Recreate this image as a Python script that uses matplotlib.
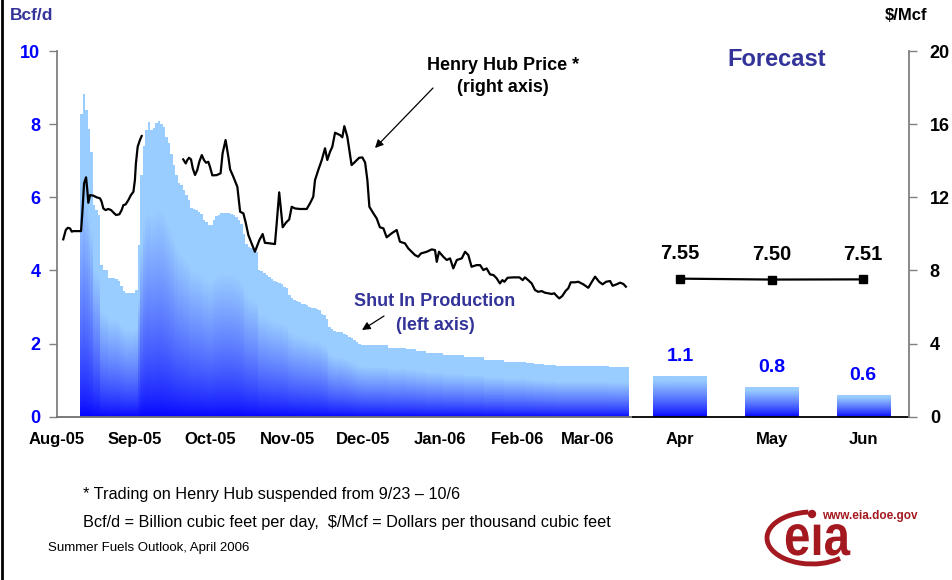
import numpy as np
import matplotlib
matplotlib.use("Agg")
import matplotlib.pyplot as plt
from matplotlib.lines import Line2D
from matplotlib.patches import Arc, Circle, PathPatch
from matplotlib.textpath import TextPath
from matplotlib.font_manager import FontProperties
from matplotlib.transforms import Affine2D

plt.rcParams['font.family'] = ['Liberation Sans', 'DejaVu Sans']

# ---------------- data ----------------
month_labels = ['Aug-05', 'Sep-05', 'Oct-05', 'Nov-05', 'Dec-05', 'Jan-06', 'Feb-06', 'Mar-06']
month_days = [0, 31, 61, 92, 122, 153, 184, 212]          # days since 1 Aug 2005 (chart scale)

shutin_first_day = 9.2                                      # first daily shut-in bar
shutin = [8.27, 8.80, 8.36, 7.86, 7.23,
          5.77, 5.65, 5.50,
          4.14, 4.00, 4.00, 3.79, 3.78, 3.78, 3.77, 3.70, 3.57, 3.45, 3.39, 3.39, 3.39, 3.39, 3.46,
          4.68, 6.59, 7.40, 7.82, 8.05, 7.84, 7.88, 8.02, 8.06, 8.00, 7.90, 7.64, 7.46, 7.16, 6.86,
          6.61, 6.38, 6.33, 6.18, 6.05, 5.93, 5.70, 5.68, 5.64, 5.59, 5.53, 5.36, 5.32, 5.23, 5.25, 5.38,
          5.47, 5.52, 5.56, 5.56, 5.56, 5.56, 5.53, 5.50, 5.45, 5.36,
          5.27, 5.00, 4.73, 4.64, 4.60, 4.55, 4.50, 4.00, 3.97, 3.94,
          3.86, 3.81, 3.77, 3.70, 3.68, 3.66, 3.64, 3.55, 3.52, 3.32,
          3.25, 3.18, 3.17, 3.15, 3.09, 3.09, 3.05, 3.00, 2.97, 2.97,
          2.95, 2.91, 2.82, 2.77, 2.68, 2.45, 2.40, 2.34, 2.32, 2.32,
          2.32, 2.27, 2.23, 2.18, 2.14, 2.09, 2.03, 2.00, 1.97, 1.97,
          1.95, 1.95,
          1.95, 1.95, 1.95, 1.95, 1.95, 1.95, 1.95,
          1.89, 1.89, 1.89, 1.89, 1.89, 1.89, 1.89,
          1.85, 1.85, 1.85, 1.85,
          1.80, 1.80, 1.80, 1.80,
          1.74, 1.74, 1.74, 1.74, 1.74, 1.74, 1.74,
          1.68, 1.68, 1.68, 1.68, 1.68, 1.68, 1.68, 1.68,
          1.63, 1.63, 1.63, 1.63, 1.63, 1.63, 1.63, 1.63,
          1.55, 1.55, 1.55, 1.55, 1.55, 1.55, 1.55, 1.55,
          1.50, 1.50, 1.50, 1.50, 1.50, 1.50, 1.50, 1.50, 1.50,
          1.47, 1.47, 1.47,
          1.44, 1.44, 1.44, 1.44,
          1.41, 1.41, 1.41, 1.41, 1.41,
          1.38, 1.38, 1.38, 1.38, 1.38, 1.38, 1.38, 1.38, 1.38, 1.38,
          1.38, 1.38, 1.38, 1.38, 1.38, 1.38, 1.38, 1.38, 1.38, 1.38, 1.38,
          1.36, 1.36, 1.36, 1.36, 1.36, 1.36, 1.36, 1.36]

# Henry Hub price before the trading suspension
price_days_pre = [2.5, 3.5, 4.3, 5.2, 5.9, 6.5, 9.6, 10.1, 10.8, 11.6, 12.1, 12.5, 13.2, 14.5, 15.8,
                  17.2, 17.8, 18.5, 19.4, 20.5, 21.6, 22.5, 23.6, 24.9, 25.8, 26.5, 27.4, 28.5, 29.5,
                  30.5, 31.1, 31.5, 32.2, 33.1, 33.8]
price_pre = [9.70, 10.21, 10.33, 10.30, 10.12, 10.15, 10.15, 11.12, 12.76, 13.09, 12.39, 11.70, 12.12,
             12.09, 12.00, 11.94, 11.76, 11.39, 11.30, 11.36, 11.30, 11.17, 11.03, 11.07, 11.30, 11.57,
             11.61, 11.85, 12.12, 12.30, 12.94, 13.85, 14.76, 15.13, 15.35]
# Henry Hub price after trading resumed
price_days_post = [50.4, 51.4, 52.0, 52.7, 53.5, 54.2, 55.1, 56.0, 56.8, 57.8,
                   58.7, 59.5, 60.4, 61.1, 62.0, 63.7, 65.3, 66.1, 67.3, 68.4,
                   69.1, 70.4, 72.0, 73.1, 74.4, 75.4, 76.4, 77.7, 79.0, 80.8,
                   82.1, 83.0, 85.0, 87.0, 87.7, 88.7, 90.1, 91.4, 92.7, 93.7,
                   95.0, 97.0, 99.7, 101.0, 102.3, 103.0, 104.3, 105.7, 107.0, 107.9,
                   109.0, 109.9, 111.0, 113.0, 113.9, 114.7, 115.9, 117.6, 119.0, 120.6,
                   121.9, 123.0, 123.9, 124.7, 126.3, 127.6, 128.9, 130.3, 131.6, 133.6,
                   135.6, 136.9, 138.9, 140.2, 141.6, 142.9, 144.2, 145.3, 147.6, 149.6,
                   150.9, 151.6, 152.5, 154.2, 155.6, 156.9, 158.2, 159.6, 161.6, 162.9,
                   164.2, 165.5, 167.5, 168.9, 170.2, 171.5, 172.9, 174.2, 175.5, 176.8,
                   177.8, 178.6, 179.9, 182.2, 184.6, 185.9, 186.8, 188.1, 189.5, 190.8,
                   192.1, 193.5, 194.8, 196.1, 197.5, 198.5, 199.5, 200.5, 201.7, 203.1,
                   204.1, 205.1, 206.8, 208.1, 210.1, 212.1, 213.4, 214.8, 216.4, 217.8,
                   219.2, 220.8, 221.8, 223.4, 224.8, 226.1, 227.1]
price_post = [14.07, 13.85, 14.03, 14.16, 14.07, 13.58, 13.22, 13.49, 13.94, 14.31,
              14.03, 13.89, 13.94, 13.65, 13.20, 13.21, 13.31, 14.40, 15.13, 14.22,
              13.53, 13.12, 12.57, 11.21, 11.12, 10.57, 9.93, 9.48, 9.02, 9.66,
              9.99, 9.51, 9.48, 9.44, 10.57, 12.27, 10.36, 10.61, 10.79, 11.48,
              11.39, 11.36, 11.36, 11.67, 12.03, 12.94, 13.49, 14.04, 14.68, 14.04,
              14.49, 14.76, 15.53, 15.40, 15.28, 15.89, 15.31, 13.76, 13.94, 14.16,
              14.18, 13.90, 12.94, 11.48, 11.12, 10.85, 10.36, 10.30, 9.81, 10.03,
              10.21, 9.57, 9.48, 9.21, 9.02, 8.84, 8.75, 8.93, 9.02, 9.15,
              9.11, 8.47, 9.02, 8.75, 8.57, 8.66, 8.11, 8.57, 8.66, 9.02,
              8.84, 8.20, 8.29, 8.29, 8.02, 8.11, 7.78, 7.75, 7.57, 7.29,
              7.47, 7.38, 7.60, 7.62, 7.62, 7.47, 7.62, 7.47, 7.29, 6.93,
              6.83, 6.87, 6.78, 6.75, 6.71, 6.75, 6.60, 6.47, 6.60, 6.89,
              7.02, 7.35, 7.35, 7.38, 7.24, 7.05, 7.35, 7.66, 7.38, 7.24,
              7.38, 7.42, 7.16, 7.24, 7.33, 7.26, 7.11]

forecast_months = ['Apr', 'May', 'Jun']
forecast_days = [248.7, 285.4, 321.8]
forecast_shutin = [1.1, 0.8, 0.6]
forecast_price = [7.55, 7.50, 7.51]

# ---------------- styling helpers ----------------
BLUE = np.array([0.0, 0.0, 1.0])
LIGHT = np.array([0.6, 0.8, 1.0])
NAVY = '#333399'


def gradient_rgba(heights, yc, frac=0.7, power=0.7):
    h = np.asarray(heights, dtype=float)[None, :]
    y = yc[:, None]
    t = np.clip(y / (frac * h), 0, 1) ** power
    rgba = np.zeros((len(yc), h.shape[1], 4))
    for k in range(3):
        rgba[..., k] = BLUE[k] + (LIGHT[k] - BLUE[k]) * t
    rgba[..., 3] = (y <= h).astype(float)
    return rgba


W, H = 953, 580
fig = plt.figure(figsize=(W / 100, H / 100), dpi=100)
fig.patch.set_facecolor('white')

ax_l, ax_r, ax_b, ax_t = 57, 909, 416.7, 51
ax = fig.add_axes([ax_l / W, 1 - ax_b / H, (ax_r - ax_l) / W, (ax_b - ax_t) / H])
XMAX = (ax_r - ax_l) / 2.505

# historical shut-in bars (real bars + gradient image on top)
n = len(shutin)
bar_x = shutin_first_day + np.arange(n)
ax.bar(bar_x, shutin, width=1.0, align='edge', color='#99CCFF', linewidth=0, zorder=1)
ytop = 9.0
N = 900
yc = (np.arange(N) + 0.5) * ytop / N
img = gradient_rgba(shutin, yc)
ax.imshow(img, extent=[bar_x[0], bar_x[0] + n, 0, ytop], origin='lower', aspect='auto',
          interpolation='nearest', zorder=2)

# forecast bars
fw = 21.2
ax.bar(forecast_days, forecast_shutin, width=fw, color='#99CCFF', linewidth=0, zorder=1)
for c, h in zip(forecast_days, forecast_shutin):
    yy = (np.arange(200) + 0.5) * h / 200
    im = gradient_rgba([h], yy, frac=0.9, power=0.8)
    ax.imshow(im, extent=[c - fw / 2, c + fw / 2, 0, h], origin='lower', aspect='auto',
              interpolation='bilinear', zorder=2)
for c, h in zip(forecast_days, forecast_shutin):
    ax.annotate(f'{h:.1f}', (c, h), xytext=(0, 8), textcoords='offset points', ha='center',
                va='bottom', color='#0000FF', fontsize=14, fontweight='bold')

ax.set_xlim(0, XMAX)
ax.set_ylim(0, 10)
ax.set_yticks([0, 2, 4, 6, 8, 10])
ax.set_yticklabels(['0', '2', '4', '6', '8', '10'], color='#0000FF', fontsize=13, fontweight='bold')
ax.tick_params(axis='y', direction='out', length=6, width=1, color='#808080', pad=6)
ax.set_xticks(month_days + forecast_days)
ax.set_xticklabels(month_labels + forecast_months, fontsize=12, fontweight='bold')
ax.tick_params(axis='x', length=0, pad=11)
for s in ['top', 'right', 'bottom']:
    ax.spines[s].set_visible(False)
ax.spines['left'].set_color('#808080')
ax.spines['left'].set_linewidth(1.3)
split = (633 - ax_l) / (ax_r - ax_l)
ax.axhline(0, xmin=0, xmax=split, color='#707070', lw=1.3, zorder=3, clip_on=False)
ax.axhline(0, xmin=split, xmax=1, color='black', lw=1.3, zorder=3, clip_on=False)

# price axis
ax2 = ax.twinx()
ax2.set_ylim(0, 20)
ax2.set_xlim(0, XMAX)
ax2.plot(price_days_pre, price_pre, color='black', lw=1.6, solid_joinstyle='round')
ax2.plot(price_days_post, price_post, color='black', lw=1.6, solid_joinstyle='round')
ax2.plot(forecast_days, forecast_price, color='black', lw=1.6, marker='s', markersize=5.5)
for c, p in zip(forecast_days, forecast_price):
    ax2.annotate(f'{p:.2f}', (c, p), xytext=(0, 11), textcoords='offset points', ha='center',
                 va='bottom', color='black', fontsize=14.5, fontweight='bold')
ax2.set_yticks([0, 4, 8, 12, 16, 20])
ax2.set_yticklabels(['0', '4', '8', '12', '16', '20'], fontsize=13, fontweight='bold')
ax2.tick_params(axis='y', direction='out', length=6, width=1, color='#808080', pad=9)
for s in ['top', 'left', 'bottom']:
    ax2.spines[s].set_visible(False)
ax2.spines['right'].set_color('#808080')
ax2.spines['right'].set_linewidth(1.3)


def fx(x):
    return x / W


def fy(y):
    return 1 - y / H


fig.text(fx(10), fy(15), 'Bcf/d', color=NAVY, fontsize=12.5, fontweight='bold', ha='left', va='center')
fig.text(fx(906), fy(15), '$/Mcf', color='black', fontsize=12, fontweight='bold', ha='center', va='center')
fig.text(fx(503), fy(65), 'Henry Hub Price *', fontsize=13, fontweight='bold', ha='center', va='center')
fig.text(fx(503), fy(87), '(right axis)', fontsize=13, fontweight='bold', ha='center', va='center')
fig.text(fx(435), fy(302), 'Shut In Production', color=NAVY, fontsize=13, fontweight='bold',
         ha='center', va='center')
fig.text(fx(435), fy(326), '(left axis)', color=NAVY, fontsize=13, fontweight='bold',
         ha='center', va='center')
fig.text(fx(777), fy(59), 'Forecast', color=NAVY, fontsize=17, fontweight='bold', ha='center', va='center')

fig.add_artist(plt.Annotation('', xy=(fx(375), fy(148)), xytext=(fx(433), fy(88)),
                              xycoords='figure fraction', textcoords='figure fraction',
                              arrowprops=dict(arrowstyle='-|>', color='black', lw=0.9,
                                              mutation_scale=12, shrinkA=0, shrinkB=0)))
fig.add_artist(plt.Annotation('', xy=(fx(362), fy(330)), xytext=(fx(384), fy(316)),
                              xycoords='figure fraction', textcoords='figure fraction',
                              arrowprops=dict(arrowstyle='-|>', color='black', lw=0.9,
                                              mutation_scale=12, shrinkA=0, shrinkB=0)))

fig.text(fx(83), fy(494), '* Trading on Henry Hub suspended from 9/23 \u2013 10/6', fontsize=11.7,
         ha='left', va='center')
fig.text(fx(83), fy(523), 'Bcf/d = Billion cubic feet per day,  $/Mcf = Dollars per thousand cubic feet',
         fontsize=11.7, ha='left', va='center')
fig.text(fx(48), fy(548), 'Summer Fuels Outlook, April 2006', fontsize=9.5, ha='left', va='center')

# left frame line
fig.add_artist(Line2D([fx(2.5), fx(2.5)], [0, 1], color='black', lw=2))

# EIA logo (graphic)
RED = '#A3191F'
lax = fig.add_axes([fx(760), fy(575), 170 / W, 75 / H])
lax.set_xlim(760, 930)
lax.set_ylim(575, 500)
lax.axis('off')
lax.add_patch(Arc((812, 538), 90, 52, theta1=36, theta2=262, color=RED, lw=3.5))
lax.add_patch(Circle((812, 514), 3.5, color=RED))
fp = FontProperties(family='Liberation Sans', weight='bold')
logo_path = TextPath((0, 0), 'e\u0131a', size=50, prop=fp)
logo_tr = Affine2D().scale(0.95, -1.15).translate(784, 555)
lax.add_patch(PathPatch(logo_tr.transform_path(logo_path), color=RED, lw=0))
lax.text(822, 516, 'www.eia.doe.gov', color=RED, fontsize=8.5, fontweight='bold', ha='left', va='center')

fig.savefig('out.png', dpi=100)
